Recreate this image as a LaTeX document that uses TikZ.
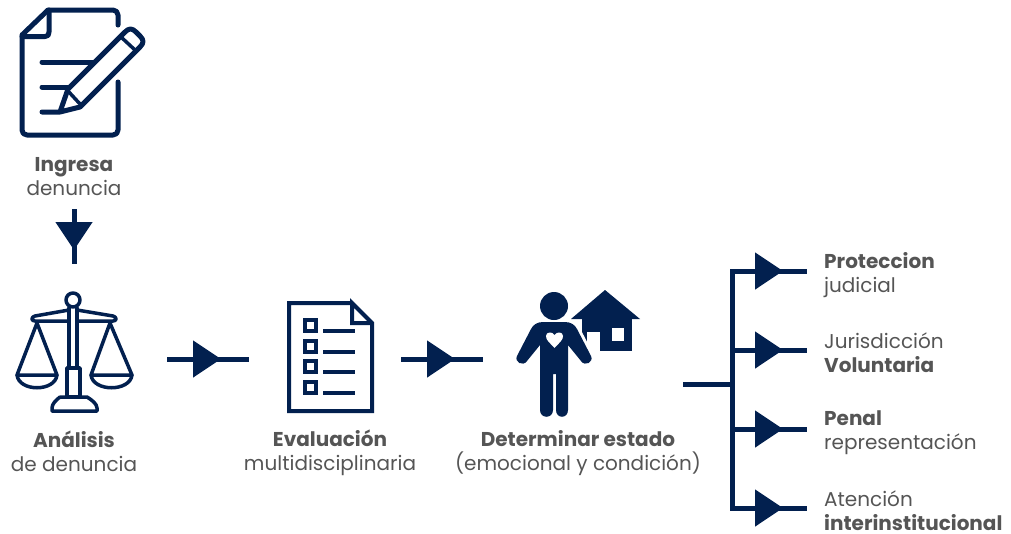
\documentclass[tikz,border=0pt]{standalone}
\usepackage{fontspec}
\usepackage{xcolor}
\usetikzlibrary{arrows.meta,decorations.markings}
\setmainfont{Poppins}
\definecolor{navy}{HTML}{02204F}
\definecolor{label-gray}{HTML}{555555}
\tikzset{
    step-label/.style = {text=label-gray, inner sep=0pt, align=center, font=\fontsize{20}{24}\selectfont, execute at begin node=\rule{0pt}{15pt}, execute at end node=\rule[-3pt]{0pt}{3pt}},
    branch-label/.style = {step-label, anchor=west, align=left},
    link-line/.style = {draw=navy, line width=5pt},
    mid-arrow/.style = {postaction={decorate, decoration={markings, mark=at position #1 with {\arrow[navy]{Triangle[length=28pt, width=36pt]}}}}},
    icon-line/.style = {draw=navy, line width=5pt, line cap=round, line join=round},
    thin-line/.style = {draw=navy, line width=3.5pt, line cap=round, line join=round},
}

\begin{document}
\begin{tikzpicture}[x=1pt, y=-1pt]
\useasboundingbox (0,0) rectangle (1011,533);

% document and pencil
\draw[icon-line] (118,25) -- (118,15) arc[start angle=0, end angle=-90, radius=5] -- (48,10) -- (22,35) -- (22,130) .. controls (22,133) and (24,135) .. (27,135) -- (113,135) .. controls (116,135) and (118,133) .. (118,130) -- (118,82);
\draw[icon-line] (49,10) -- (49,32) .. controls (49,35) and (48,36.5) .. (45,36.5) -- (22,36.5);
\draw[icon-line] (42,62) -- (93,62);
\draw[icon-line] (42,87) -- (68,87);
\draw[icon-line] (42,112) -- (60,112) -- (80,107) -- (140,47) .. controls (144,43) and (144,40) .. (140,36) -- (136,32) .. controls (132,28) and (129,28) .. (125,32) -- (68,89) -- (60,112);
\draw[thin-line] (121,37) -- (135,50);
\draw[thin-line] (68,91) -- (80,104);

% scales
\draw[thin-line] (73,300) circle[radius=7];
\draw[thin-line] (69,308) -- (69,368);
\draw[thin-line] (77,308) -- (77,368);
\draw[thin-line] (67,368) rectangle (80,397);
\draw[thin-line] (60,397) -- (87,397) .. controls (92,400) and (97,404) .. (97,408) -- (97,411) -- (52,411) -- (52,408) .. controls (52,404) and (56,400) .. (60,397);
\draw[thin-line] (69,310) -- (35,316) .. controls (31,317) and (31,321) .. (35,321) -- (69,321);
\draw[thin-line] (77,310) -- (113,316) .. controls (117,317) and (117,321) .. (113,321) -- (77,321);
\draw[thin-line] (37,323) -- (17,375) -- (57,375) -- cycle;
\draw[thin-line] (17,375) .. controls (19,392) and (55,392) .. (57,375);
\draw[thin-line] (110,323) -- (91,375) -- (132,375) -- cycle;
\draw[thin-line] (91,375) .. controls (93,392) and (130,392) .. (132,375);

% checklist
\draw[draw=navy, line width=4pt, line join=miter] (352,303) -- (289,303) -- (289,411) -- (372,411) -- (372,323) -- (352,303) -- (352,323) -- (372,323);
\foreach \rowy in {325,346,366,387} {
    \draw[draw=navy, line width=4pt] (304.5,\rowy-5.5) rectangle (315.5,\rowy+5.5);
    \draw[draw=navy, line width=3.5pt] (323,\rowy+6) -- (355,\rowy+6);
}

% house
\fill[navy] (605,290) -- (640,319) -- (571,319) -- cycle;
\fill[navy] (582,319) rectangle (632,351);
\fill[white] (587,332) rectangle (600,352);
\fill[white] (612,328) rectangle (624,341);

% person
\fill[navy, preaction={draw=white, line width=6pt}] (543,322) -- (565,322) .. controls (571,322) and (575,325) .. (577,329) -- (591,356) .. controls (594,362) and (585,367) .. (581,361) -- (568,345) -- (568,410) .. controls (568,419) and (556,419) .. (556,410) -- (556,374) -- (553,374) -- (553,410) .. controls (553,419) and (540,419) .. (540,410) -- (540,345) -- (527,361) .. controls (523,367) and (514,362) .. (517,356) -- (531,329) .. controls (533,325) and (537,322) .. (543,322) -- cycle;
\fill[navy] (554,306) circle[radius=14];
\fill[white] (554.5,348) .. controls (549,342) and (546,340) .. (546,336) .. controls (546,332) and (552,331) .. (554.5,335) .. controls (557,331) and (563,332) .. (563,336) .. controls (563,340) and (560,342) .. (554.5,348);

% labels
\node[step-label] (ingresa) at (74,177.8) {\textbf{Ingresa}\\denuncia};
\node[step-label] (analisis) at (74,452.8) {\textbf{Análisis}\\de denuncia};
\node[step-label] (evaluacion) at (330,452.8) {\textbf{Evaluación}\\multidisciplinaria};
\node[step-label] (estado) at (578,452.8) {\textbf{Determinar estado}\\(emocional y condición)};
\node[branch-label] (proteccion) at (824,274.8) {\textbf{Proteccion}\\judicial};
\node[branch-label] (jurisdiccion) at (824,353.8) {Jurisdicción\\\textbf{Voluntaria}};
\node[branch-label] (penal) at (824,432.8) {\textbf{Penal}\\representación};
\node[branch-label] (atencion) at (824,511.8) {Atención\\\textbf{interinstitucional}};

% connectors
\coordinate (down-start) at (74,209);
\coordinate (down-end) at (74,264);
\coordinate (first-start) at (167,359);
\coordinate (first-end) at (249,359);
\coordinate (second-start) at (401,359);
\coordinate (second-end) at (483,359);
\coordinate (stem-start) at (683,384);
\coordinate (stem-end) at (732,384);
\coordinate (trunk-top) at (732,271);
\coordinate (trunk-one) at (732,350);
\coordinate (trunk-two) at (732,429);
\coordinate (trunk-bottom) at (732,508);
\coordinate (end-top) at (807,271);
\coordinate (end-one) at (807,350);
\coordinate (end-two) at (807,429);
\coordinate (end-bottom) at (807,508);

\draw[link-line, mid-arrow=41pt] (down-start) -- (down-end);
\draw[link-line, mid-arrow=54pt] (first-start) -- (first-end);
\draw[link-line, mid-arrow=54pt] (second-start) -- (second-end);
\draw[link-line] (stem-start) -- (stem-end);
\draw[link-line, line cap=rect] (trunk-top) -- (trunk-bottom);
\draw[link-line, mid-arrow=51pt] (trunk-top) -- (end-top);
\draw[link-line, mid-arrow=51pt] (trunk-one) -- (end-one);
\draw[link-line, mid-arrow=51pt] (trunk-two) -- (end-two);
\draw[link-line, mid-arrow=51pt] (trunk-bottom) -- (end-bottom);
\end{tikzpicture}
\end{document}
